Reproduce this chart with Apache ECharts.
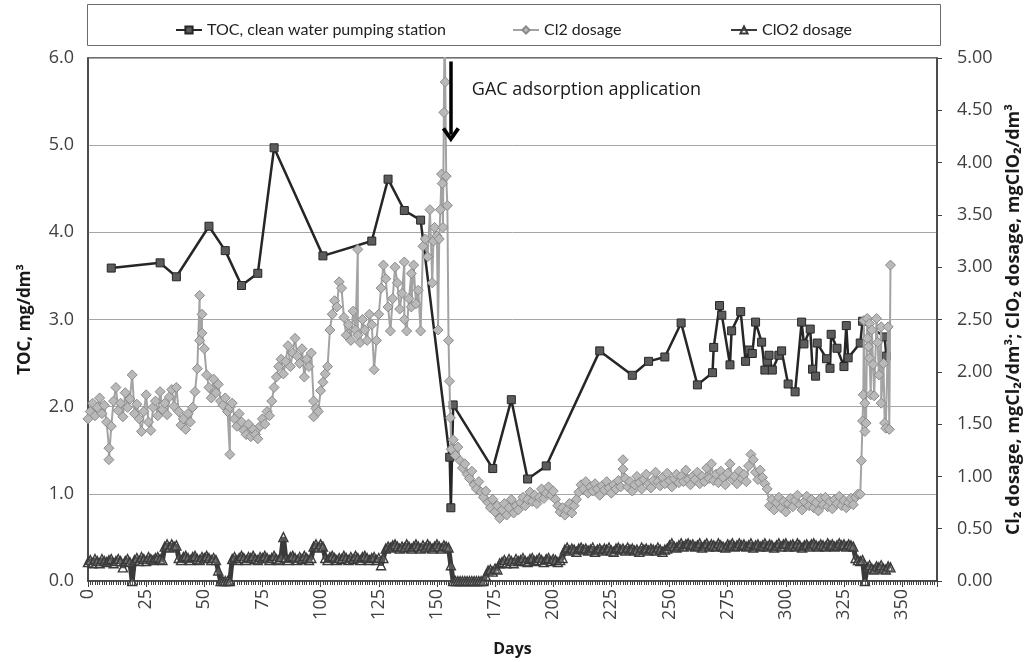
<!DOCTYPE html>
<html><head><meta charset="utf-8">
<script src="https://cdn.jsdelivr.net/npm/echarts@6/dist/echarts.min.js"></script>
<style>html,body{margin:0;padding:0;background:#fff}#c{width:1035px;height:662px}</style>
</head><body><div id="c"></div>
<script>
// ---------------- DATA ----------------
const seriesNames = ['TOC, clean water pumping station', 'Cl2 dosage', 'ClO2 dosage'];
const xTickStep = 25;            // days between labelled ticks
const leftTicks = [0, 1, 2, 3, 4, 5, 6];
const rightTicks = [0, 0.5, 1, 1.5, 2, 2.5, 3, 3.5, 4, 4.5, 5];

// TOC [day, mg/dm3]
const tocPoints = [
  [10,3.59],[31,3.65],[38,3.49],[52,4.07],[59,3.79],[66,3.39],[73,3.53],[80,4.97],[101,3.73],[122,3.90],
  [129,4.61],[136,4.25],[143,4.14],[155.5,1.42],[156,0.84],[157,2.02],[174,1.29],[182,2.08],[189,1.17],[197,1.32],
  [220,2.64],[234,2.36],[241,2.52],[248,2.57],[255,2.96],[262,2.25],[268.5,2.39],[269,2.68],[271.5,3.16],[272.5,3.05],
  [276,2.48],[276.7,2.87],[280.6,3.09],[282.7,2.52],[284.2,2.65],[285.6,2.61],[287,2.97],[289.6,2.74],[291,2.42],[292,2.52],
  [292.8,2.59],[294.2,2.42],[297,2.59],[298.2,2.64],[301,2.26],[304,2.17],[306.8,2.97],[307.8,2.72],[310.5,2.89],[311.5,2.43],
  [312.8,2.35],[313.5,2.73],[317.5,2.55],[319,2.44],[319.5,2.83],[322,2.67],[325,2.46],[326,2.93],[326.8,2.56],[332,2.73],
  [333,2.98],[342.5,2.80],[343.2,2.58]
];

// Cl2 dosage [day, mgCl2/dm3]
const cl2Points = [
  [0,1.55],[1,1.62],[2,1.70],[3,1.58],[4,1.66],[5,1.75],[6,1.60],[7,1.68],[8,1.52],[9,1.27],[9,1.16],[10,1.48],
  [11,1.72],[12,1.85],[13,1.63],[14,1.70],[15,1.57],[16,1.80],[17,1.66],[18,1.74],[19,1.97],[20,1.60],[21,1.69],
  [22,1.55],[23,1.43],[24,1.62],[25,1.78],[26,1.52],[27,1.44],[28,1.66],[29,1.72],[30,1.58],[31,1.81],[32,1.64],
  [33,1.70],[34,1.59],[35,1.76],[36,1.83],[37,1.67],[38,1.85],[39,1.62],[40,1.49],[41,1.55],[42,1.45],[43,1.60],
  [44,1.52],[45,1.66],[46,1.81],[47,2.03],[48,2.73],[48,2.30],[49,2.55],[49,2.37],[50,2.22],[51,1.97],[52,1.85],
  [53,1.75],[54,1.93],[55,1.80],[56,1.88],[57,1.72],[58,1.68],[59,1.75],[60,1.62],[61,1.21],[61,1.66],[62,1.70],
  [63,1.55],[64,1.48],[65,1.60],[66,1.52],[67,1.44],[68,1.40],[69,1.50],[70,1.38],[71,1.45],[72,1.40],[73,1.36],
  [74,1.48],[75,1.55],[76,1.50],[77,1.62],[78,1.58],[79,1.72],[80,1.85],[81,1.95],[82,2.05],[83,2.12],[84,1.98],
  [85,2.10],[86,2.25],[87,2.05],[88,2.18],[89,2.32],[90,2.15],[91,2.08],[92,2.22],[93,1.95],[94,2.12],[95,2.05],
  [96,2.18],[97,1.72],[97,1.57],[98,1.65],[99,1.62],[100,1.82],[101,1.90],[102,1.98],[103,2.05],[104,2.40],[105,2.55],
  [106,2.68],[107,2.62],[108,2.86],[109,2.80],[110,2.52],[111,2.35],[112,2.45],[113,2.30],[114,2.58],[115,2.40],
  [116,3.17],[116,2.35],[117,2.28],[118,2.50],[119,2.40],[120,2.30],[121,2.55],[122,2.45],[123,2.02],[124,2.30],
  [125,2.55],[126,2.80],[127,3.02],[128,2.89],[129,2.62],[130,2.39],[131,2.70],[132,3.00],[133,2.85],[134,2.60],
  [135,2.75],[136,3.05],[136,2.50],[137,2.39],[138,2.70],[139,2.94],[139,2.62],[140,3.02],[141,2.65],[142,2.78],
  [143,2.39],[144,3.20],[145,3.27],[146,3.10],[147,3.55],[148,2.85],[148.5,3.25],[149,3.38],[150,3.30],[150.5,2.40],
  [151,3.27],[151.5,3.55],[152,3.89],[152.3,3.80],[152.6,3.38],[153,4.48],[153.3,5.40],[153.6,4.77],[154,3.87],
  [154.5,3.59],[155,2.30],[155.4,1.91],[155.8,1.56],[156.2,1.26],[157,1.35],[158,1.20],[159,1.28],[160,1.15],
  [161,1.08],[162,1.12],[163,1.02],[164,0.98],[165,1.05],[166,0.92],[167,0.88],[168,0.95],[169,0.85],[170,0.80],
  [171,0.86],[172,0.75],[173,0.70],[174,0.78],[175,0.66],[176,0.72],[177,0.60],[178,0.68],[179,0.74],[180,0.63],
  [181,0.70],[182,0.78],[183,0.65],[184,0.72],[185,0.68],[186,0.75],[187,0.80],[188,0.72],[189,0.78],[190,0.85],
  [191,0.76],[192,0.82],[193,0.74],[194,0.80],[195,0.88],[196,0.79],[197,0.84],[198,0.90],[199,0.82],[200,0.86],
  [201,0.78],[202,0.72],[203,0.66],[204,0.70],[205,0.63],[206,0.68],[207,0.74],[208,0.65],[209,0.72],[210,0.78],
  [211,0.85],[212,0.92],[213,0.88],[214,0.95],[215,0.84],[216,0.90],[217,0.86],[218,0.93],[219,0.88],[220,0.82],
  [221,0.91],[222,0.87],[223,0.95],[224,0.89],[225,0.84],[226,0.92],[227,0.88],[228,0.96],[229,0.90],[230,1.16],
  [230,1.07],[231,0.98],[232,0.90],[233,0.95],[234,0.86],[235,0.92],[236,1.00],[237,0.94],[238,0.88],[239,0.97],
  [240,1.02],[241,0.93],[242,0.89],[243,0.96],[244,1.04],[245,0.95],[246,0.91],[247,0.99],[248,0.93],[249,1.03],
  [250,0.96],[251,0.90],[252,0.98],[253,1.02],[254,0.94],[255,1.00],[256,0.95],[257,1.06],[258,0.97],[259,0.92],
  [260,1.00],[261,0.97],[262,1.04],[263,0.93],[264,1.00],[265,0.95],[266,1.08],[267,0.98],[268,1.12],[269,0.96],
  [270,1.02],[271,0.94],[272,1.05],[273,0.99],[274,0.92],[275,1.03],[276,1.12],[277,0.97],[278,1.00],[279,0.93],
  [280,1.05],[281,0.98],[282,1.02],[283,0.95],[284,1.10],[285,1.21],[286,1.16],[287,1.04],[288,0.97],[289,1.06],
  [290,0.99],[291,0.93],[292,0.88],[293,0.72],[294,0.78],[295,0.68],[296,0.75],[297,0.80],[298,0.70],[299,0.76],
  [300,0.66],[301,0.74],[302,0.79],[303,0.71],[304,0.77],[305,0.82],[306,0.73],[307,0.68],[308,0.76],[309,0.81],
  [310,0.72],[311,0.78],[312,0.70],[313,0.75],[314,0.67],[315,0.79],[316,0.73],[317,0.80],[318,0.71],[319,0.76],
  [320,0.69],[321,0.78],[322,0.74],[323,0.81],[324,0.72],[325,0.77],[326,0.70],[327,0.75],[328,0.79],[329,0.73],
  [330,0.80],[331,0.83],[332,0.83],[332.5,1.15],[333,1.53],[333.3,1.78],[333.6,2.49],[334,1.70],[334,1.43],
  [334.5,1.51],[335,2.51],[335,2.32],[335.5,2.24],[336,2.46],[336,2.13],[336.5,1.78],[337,2.40],[337.5,2.07],
  [338,1.77],[339,2.51],[339.5,2.28],[340,1.97],[341,2.43],[341,1.70],[342,2.08],[342.5,1.51],[343,1.46],
  [344,2.43],[344.5,1.45],[345,3.02]
];

// ClO2 dosage, one value per day starting at day 0 (mgClO2/dm3)
const clo2FirstDay = 0;
const clo2Values = [
  0.18,0.20,0.17,0.21,0.19,0.17,0.21,0.19,0.18,0.20,0.21,0.17,0.19,0.21,0.19,   // 0-14
  0.13,0.19,0.21,0.18,0.00,                                                       // 15-19
  0.20,0.22,0.19,0.23,0.21,0.19,0.23,0.21,0.20,0.22,0.23,0.21,0.20,               // 20-32
  0.33,0.35,0.32,0.35,0.33,0.34,                                                  // 33-38
  0.22,0.20,0.23,0.24,0.22,0.20,0.23,0.24,0.21,0.20,0.23,0.22,0.24,0.22,0.20,0.22, // 39-54
  0.20,0.10,0.00,0.00,0.00,0.00,0.00,                                             // 55-61
  0.21,0.23,0.20,0.22,0.24,0.22,0.20,0.23,0.22,0.24,0.21,
  0.20,0.23,0.22,0.24,0.22,0.20,0.22,0.24,0.21,0.20,0.23,                         // 62-83
  0.42,                                                                           // 84
  0.22,0.20,0.23,0.24,0.22,0.20,0.23,0.21,0.24,0.22,0.20,0.22,                    // 85-96
  0.33,0.35,0.32,0.35,0.33,                                                       // 97-101
  0.22,0.20,0.23,0.24,0.22,0.20,0.22,0.21,0.24,0.22,0.20,0.23,
  0.21,0.24,0.22,0.20,0.23,0.24,0.22,0.20,0.22,0.23,0.20,0.22,                    // 102-125
  0.15,0.22,                                                                      // 126-127
  0.31,0.33,0.32,0.34,0.35,0.33,0.31,0.33,0.32,0.35,0.33,0.31,0.33,0.35,
  0.33,0.31,0.34,0.32,0.35,0.33,0.31,0.33,0.35,0.33,0.31,0.34,0.33,0.32,          // 128-155
  0.15,                                                                           // 156
  0.00,0.00,0.00,0.00,0.00,0.00,0.00,0.00,0.00,0.00,0.00,0.00,0.00,0.00,          // 157-170
  0.05,0.10,0.11,0.09,0.12,0.11,                                                  // 171-176
  0.17,0.18,0.20,0.17,0.21,0.19,0.17,0.21,0.19,0.20,0.22,0.19,0.18,0.21,
  0.22,0.19,0.20,0.22,0.20,0.18,0.21,0.22,0.19,0.21,0.20,0.18,0.20,0.22,          // 177-204
  0.30,0.32,0.29,0.31,0.30,0.28,0.31,0.32,0.30,
  0.31,0.29,0.30,0.32,0.28,0.30,0.31,0.29,0.31,
  0.30,0.32,0.29,0.28,0.31,0.32,0.30,0.31,0.29,
  0.32,0.30,0.31,0.29,0.30,0.28,0.32,0.30,0.31,
  0.29,0.31,0.30,0.29,0.32,0.30,0.28,0.30,0.31,                                   // 205-249
  0.34,0.36,0.33,0.32,0.34,0.36,0.33,0.35,0.36,0.34,
  0.35,0.33,0.34,0.36,0.32,0.34,0.36,0.33,0.35,0.34,
  0.33,0.36,0.34,0.33,0.32,0.35,0.34,0.36,0.33,0.34,
  0.36,0.34,0.35,0.33,0.34,0.36,0.32,0.34,0.35,0.33,
  0.34,0.36,0.33,0.35,0.34,0.32,0.34,0.36,0.33,0.35,
  0.36,0.33,0.34,0.35,0.33,0.36,0.34,0.32,0.34,0.35,
  0.33,0.35,0.36,0.34,0.33,0.35,0.34,0.33,0.36,0.34,
  0.35,0.33,0.34,0.36,0.34,0.35,0.33,0.35,0.34,0.33,                              // 250-329
  0.22,0.20,0.19,0.20,0.00,                                                       // 330-334
  0.13,0.15,0.12,0.11,0.14,0.13,0.15,0.12,0.11,0.14,0.13                          // 335-345
];

// annotation
const gacLabel = 'GAC adsorption application';
const gacDay = 156;

// ---------------- CHART ----------------
const clo2Points = clo2Values.map((v, i) => [clo2FirstDay + i, v]);
const chart = echarts.init(document.getElementById('c'), null, {renderer: 'canvas'});
const tickFont = {fontFamily: 'Open Sans', fontSize: 18, color: '#404040'};
const titleFont = {fontFamily: 'Open Sans', fontSize: 17, fontWeight: 'bold', color: '#1a1a1a'};
const arrowHead = 'path://M10,0 L20,11 L16.5,13 L10,5.5 L3.5,13 L0,11 Z';

chart.setOption({
  animation: false,
  backgroundColor: '#fff',
  graphic: [{type: 'rect', left: 87, top: 4, z: -1, shape: {width: 853, height: 41},
             style: {fill: '#fff', stroke: '#6b6b6b', lineWidth: 1}}],
  legend: [
    {data: [seriesNames[0]], left: 170, top: 17},
    {data: [seriesNames[1]], left: 507, top: 17},
    {data: [seriesNames[2]], left: 725, top: 17}
  ].map(l => Object.assign(l, {itemWidth: 26, itemHeight: 9, itemGap: 5,
      textStyle: {fontFamily: 'Lato', fontSize: 16, color: '#222'}})),
  grid: {left: 88, right: 98, top: 58, bottom: 78, show: true, borderColor: '#404040', borderWidth: 1.5, containLabel: false},
  xAxis: {
    type: 'value', min: 0, max: 365, interval: xTickStep,
    name: 'Days', nameLocation: 'middle', nameGap: 60, nameTextStyle: Object.assign({}, titleFont, {fontSize: 16}),
    axisLine: {show: true, lineStyle: {color: '#404040', width: 1.5}},
    axisTick: {show: true, length: 6, lineStyle: {color: '#404040'}},
    minorTick: {show: true, splitNumber: 25, length: 4, lineStyle: {color: '#404040'}},
    axisLabel: Object.assign({rotate: 90, margin: 8, showMaxLabel: false}, tickFont),
    splitLine: {show: false}
  },
  yAxis: [
    {
      type: 'value', min: leftTicks[0], max: leftTicks[leftTicks.length - 1], interval: 1, position: 'left',
      name: 'TOC, mg/dm³', nameLocation: 'middle', nameGap: 54, nameTextStyle: titleFont,
      axisLine: {show: true, lineStyle: {color: '#404040', width: 1.5}},
      axisTick: {show: false},
      axisLabel: Object.assign({margin: 14, formatter: v => v.toFixed(1)}, tickFont),
      splitLine: {show: true, lineStyle: {color: '#a6a6a6', width: 1}}
    },
    {
      type: 'value', min: rightTicks[0], max: rightTicks[rightTicks.length - 1], interval: 0.5, position: 'right',
      name: 'Cl₂ dosage, mgCl₂/dm³; ClO₂ dosage, mgClO₂/dm³', nameLocation: 'middle', nameGap: 68, nameRotate: 90,
      nameTextStyle: Object.assign({}, titleFont, {fontSize: 18}),
      axisLine: {show: true, lineStyle: {color: '#404040', width: 1.5}},
      axisTick: {show: true, length: 5, lineStyle: {color: '#404040'}},
      axisLabel: Object.assign({margin: 20, formatter: v => v.toFixed(2)}, tickFont),
      splitLine: {show: false}
    }
  ],
  series: [
    {
      name: seriesNames[0], type: 'line', yAxisIndex: 0, data: tocPoints, z: 2,
      symbol: 'rect', symbolSize: 8, showAllSymbol: true,
      lineStyle: {color: '#262626', width: 2.5},
      itemStyle: {color: '#5c5c5c', borderColor: '#262626', borderWidth: 1},
      markLine: {
        silent: true, symbol: ['none', arrowHead], symbolSize: [18, 15], animation: false,
        lineStyle: {color: '#000', width: 3.5, type: 'solid'}, label: {show: false},
        data: [[{coord: [gacDay, 5.96]}, {coord: [gacDay, 5.12]}]]
      },
      markPoint: {
        silent: true, symbol: 'circle', symbolSize: 0, animation: false,
        label: {show: true, position: 'right', distance: 0, formatter: gacLabel,
                fontFamily: 'Open Sans', fontSize: 18, color: '#1a1a1a'},
        data: [{coord: [165, 5.63]}]
      }
    },
    {
      name: seriesNames[1], type: 'line', yAxisIndex: 1, data: cl2Points, z: 3,
      symbol: 'diamond', symbolSize: 10, showAllSymbol: true,
      lineStyle: {color: '#a3a3a3', width: 2},
      itemStyle: {color: '#b9b9b9', borderColor: '#8a8a8a', borderWidth: 1}
    },
    {
      name: seriesNames[2], type: 'line', yAxisIndex: 1, data: clo2Points, z: 4,
      symbol: 'triangle', symbolSize: 9, showAllSymbol: true,
      lineStyle: {color: '#3a3a3a', width: 5},
      itemStyle: {color: 'rgba(255,255,255,0.15)', borderColor: '#3a3a3a', borderWidth: 1.4}
    }
  ]
});
</script>
</body></html>
